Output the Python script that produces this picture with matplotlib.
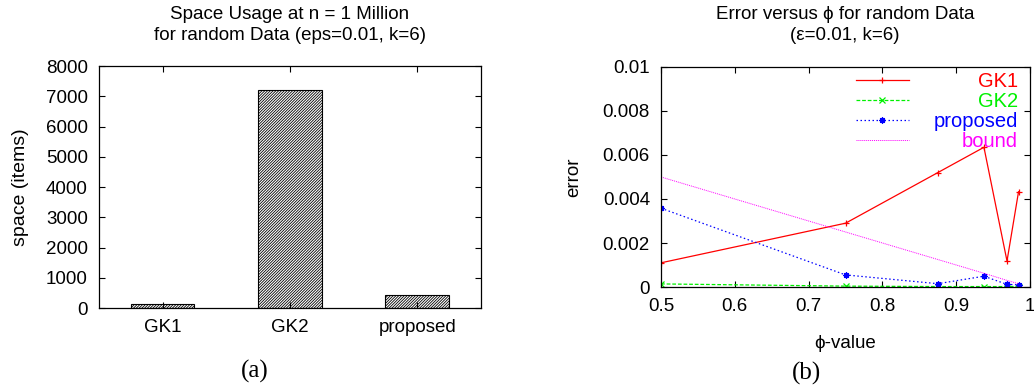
import numpy as np
import matplotlib
matplotlib.use("Agg")
import matplotlib.pyplot as plt

plt.rcParams['font.family'] = ['Liberation Sans', 'DejaVu Sans']
plt.rcParams['hatch.linewidth'] = 0.6
plt.rcParams['hatch.color'] = '#222222'

# (a) space usage
methods = ['GK1', 'GK2', 'proposed']
space = [122, 7200, 440]

# (b) error versus phi
phi = [0.5, 0.75, 0.875, 0.9375, 0.96875, 0.984375]
err_gk1 = [0.0011, 0.0029, 0.0052, 0.00635, 0.00118, 0.00433]
err_gk2 = [0.00014, 0.00004, 0.00002, 0.00002, 0.00002, 0.00002]
err_prop = [0.00358, 0.00055, 0.00015, 0.00049, 0.00012, 0.0001]
err_bound = [0.005, 0.0025, 0.00125, 0.000625, 0.0003, 0.00015]

FS = 13.5

fig = plt.figure(figsize=(10.34, 3.89), dpi=100)

def style_axes(ax):
    for s in ax.spines.values():
        s.set_linewidth(0.9)
    ax.tick_params(direction='in', length=4, width=0.8, labelsize=FS,
                   top=True, right=True, pad=8)

# ---- left panel
ax1 = fig.add_axes([0.0957, 0.2082, 0.3694, 0.6221])
x = np.arange(len(methods))
ax1.bar(x, space, width=0.5, color='white', edgecolor='black',
        linewidth=0.8, hatch='////////////')
ax1.set_xlim(-0.5, 2.5)
ax1.set_ylim(0, 8000)
ax1.set_yticks(range(0, 8001, 1000))
ax1.set_xticks(x)
ax1.set_xticklabels(methods)
ax1.set_ylabel('space (items)', fontsize=14, labelpad=12)
style_axes(ax1)
fig.text(0.2805, 0.936, 'Space Usage at n = 1 Million\nfor random Data (eps=0.01, k=6)',
         ha='center', va='center', fontsize=FS, linespacing=1.25)

# ---- right panel
ax2 = fig.add_axes([0.6393, 0.2622, 0.3569, 0.5656])
ax2.plot(phi, err_gk1, color='#ff0000', lw=0.9, marker='+', ms=5, mew=0.9, label='GK1')
ax2.plot(phi, err_gk2, color='#00f000', lw=0.9, marker='x', ms=4, mew=0.9,
         dashes=(3, 1.5), label='GK2')
ax2.plot(phi, err_prop, color='#0000ff', lw=0.9, marker=(8, 2, 0), ms=4.5, mew=0.9,
         dashes=(1.2, 2), label='proposed')
ax2.plot(phi, err_bound, color='#ff00ff', lw=0.7, dashes=(1, 1), label='bound')
ax2.set_xlim(0.5, 1)
ax2.set_ylim(0, 0.01)
ax2.set_xticks([0.5, 0.6, 0.7, 0.8, 0.9, 1.0])
ax2.set_xticklabels(['0.5', '0.6', '0.7', '0.8', '0.9', '1'])
ax2.set_yticks([0, 0.002, 0.004, 0.006, 0.008, 0.01])
ax2.set_yticklabels(['0', '0.002', '0.004', '0.006', '0.008', '0.01'])
ax2.set_xlabel('\u03d5-value', fontsize=FS, labelpad=14)
ax2.set_ylabel('error', fontsize=FS, labelpad=15)
style_axes(ax2)
fig.text(0.8172, 0.936, 'Error versus \u03d5 for random Data\n(\u03b5=0.01, k=6)',
         ha='center', va='center', fontsize=FS, linespacing=1.25)

leg = ax2.legend(loc='upper right', bbox_to_anchor=(0.967, 0.976), frameon=False,
                 fontsize=14.5, handlelength=2.63, handletextpad=1.24, labelspacing=0.04,
                 borderpad=0, borderaxespad=0, labelcolor='linecolor', numpoints=1)
# right-align legend texts like gnuplot keys
fig.canvas.draw()
renderer = fig.canvas.get_renderer()
widths = [t.get_window_extent(renderer).width for t in leg.get_texts()]
shift = max(widths)
for t, w in zip(leg.get_texts(), widths):
    t.set_position((shift - w, 0))

# captions
fig.text(0.2466, 0.044, '(a)', ha='center', va='center', fontsize=18,
         family=['Liberation Serif', 'DejaVu Serif'])
fig.text(0.7795, 0.041, '(b)', ha='center', va='center', fontsize=18,
         family=['Liberation Serif', 'DejaVu Serif'])

fig.savefig('out.png', dpi=100)
